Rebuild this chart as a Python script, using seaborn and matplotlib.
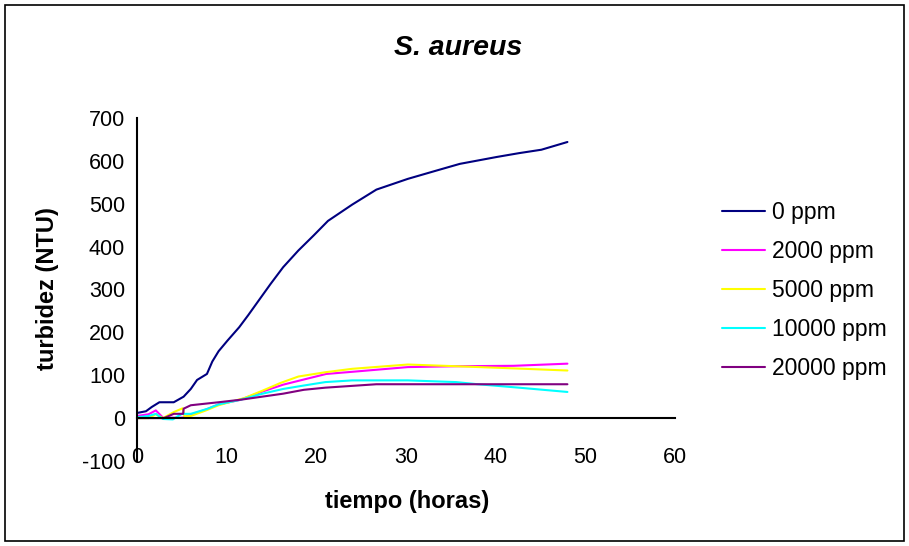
import matplotlib
matplotlib.use("Agg")
import matplotlib.pyplot as plt
import seaborn as sns
import pandas as pd
from matplotlib.patches import Rectangle

# ---- data ----
t_0 = [0, 1, 1.65, 2.5, 4.1, 5.2, 6, 6.7, 7.8, 8.4, 9.1, 10.1, 11.4, 12.4, 13.7, 14.9,
       16.3, 18, 19.7, 21.3, 24, 26.7, 30.2, 33.5, 36, 40.1, 42.6, 45.1, 48]
v_0 = [12, 16, 26, 37, 37, 50, 68, 89, 103, 132, 156, 181, 212, 240, 278, 313,
       352, 391, 426, 460, 498, 533, 558, 578, 593, 609, 618, 626, 644]

t_2000 = [0, 1.3, 2.1, 2.9, 4, 5.1, 6, 7.7, 9.1, 11.4, 14, 16.3, 18.6, 21.1, 24, 30.2, 35.6, 42, 48]
v_2000 = [5, 9, 18, 1, 1, 1, 8, 20, 32, 42, 62, 78, 90, 103, 108, 119, 121, 122, 127]

t_5000 = [0, 1.3, 2.1, 2.9, 4.1, 5.1, 5.3, 6, 7.7, 9.1, 12, 14, 16, 18, 21, 24, 30.2, 35.6, 42, 48]
v_5000 = [0, 0, 9, 0, 14, 23, 4, 5, 18, 30, 47, 64, 82, 97, 107, 115, 125, 121, 116, 111]

t_10000 = [0, 1.3, 2.1, 2.9, 4, 5, 6, 7.9, 9.1, 11.6, 14, 16.3, 18.6, 21, 24, 30.2, 35.6, 38, 42.6, 48]
v_10000 = [2, 5, 10, -2, -3, 10, 10, 22, 32, 43, 57, 68, 76, 84, 88, 88, 84, 79, 71, 61]

t_20000 = [0, 3, 4.1, 5.15, 5.2, 6, 9.1, 11.6, 16.3, 18.6, 21, 26.7, 48]
v_20000 = [0, 0, 10, 10, 22, 30, 37, 43, 57, 66, 71, 79, 79]

series = ["0 ppm", "2000 ppm", "5000 ppm", "10000 ppm", "20000 ppm"]
colors = ["#000080", "#FF00FF", "#FFFF00", "#00FFFF", "#800080"]

x_ticks = [0, 10, 20, 30, 40, 50, 60]
y_ticks = [-100, 0, 100, 200, 300, 400, 500, 600, 700]

frames = []
for name, t, v in zip(series, [t_0, t_2000, t_5000, t_10000, t_20000],
                      [v_0, v_2000, v_5000, v_10000, v_20000]):
    frames.append(pd.DataFrame({"tiempo": t, "turbidez": v, "serie": name}))
df = pd.concat(frames, ignore_index=True)

sns.set_theme(style="white")
plt.rcParams["font.family"] = ["Liberation Sans", "DejaVu Sans"]
plt.rcParams["axes.unicode_minus"] = False
plt.rcParams["text.color"] = "black"
plt.rcParams["xtick.color"] = "black"
plt.rcParams["ytick.color"] = "black"

fig = plt.figure(figsize=(9.09, 5.46), dpi=100)
ax = fig.add_axes([0.1507, 0.1557, 0.5919, 0.6282])

sns.lineplot(data=df, x="tiempo", y="turbidez", hue="serie", hue_order=series,
             palette=colors, sort=False, estimator=None,
             linewidth=1.5, ax=ax)

ax.set_xlim(0, 60)
ax.set_ylim(-100, 700)
ax.set_xticks(x_ticks)
ax.set_yticks(y_ticks)
ax.tick_params(axis="both", labelsize=15.5, colors="black", labelcolor="black",
               direction="out", length=4.5, width=1.2)
ax.tick_params(axis="x", pad=16)
ax.tick_params(axis="y", pad=4)
for s in ["top", "right"]:
    ax.spines[s].set_visible(False)
ax.spines["bottom"].set_position(("data", 0))
for s in ["left", "bottom"]:
    ax.spines[s].set_color("black")
    ax.spines[s].set_linewidth(1.5)

ax.set_xlabel("")
ax.set_ylabel("")
fig.text(0.4477, 0.0806, "tiempo (horas)", ha="center", va="center",
         fontsize=17, fontweight="bold", color="black")
fig.text(0.0528, 0.471, "turbidez (NTU)", ha="center", va="center", rotation=90,
         fontsize=17, fontweight="bold", color="black")
fig.text(0.504, 0.913, "S. aureus", ha="center", va="center", fontsize=20.5,
         fontweight="bold", fontstyle="italic", color="black")

leg = ax.legend(title=None, loc="center left", bbox_to_anchor=(0.7943, 0.468),
                bbox_transform=fig.transFigure, frameon=False, fontsize=16.5,
                handlelength=1.88, labelspacing=0.70, handletextpad=0.3,
                borderaxespad=0, borderpad=0)
for line in leg.get_lines():
    line.set_linewidth(1.5)
for txt in leg.get_texts():
    txt.set_color("black")

fig.patches.append(Rectangle((0.006, 0.009), 0.988, 0.982, transform=fig.transFigure,
                             fill=False, edgecolor="black", linewidth=1.2))

fig.savefig("out.png", dpi=100)
